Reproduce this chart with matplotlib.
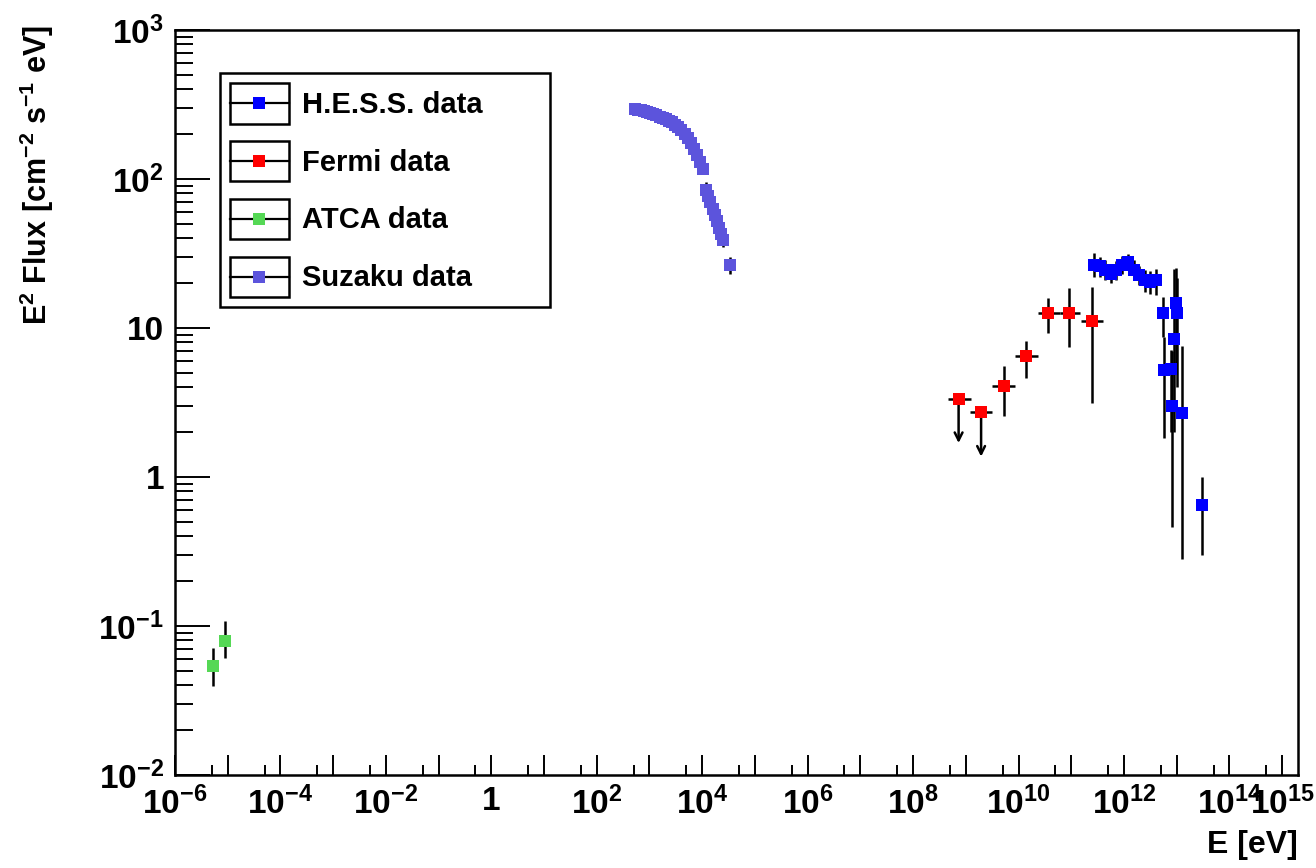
import numpy as np
import matplotlib
matplotlib.use('Agg')
import matplotlib.pyplot as plt
from matplotlib.legend_handler import HandlerBase
from matplotlib.patches import Rectangle
from matplotlib.lines import Line2D
from matplotlib.ticker import FixedLocator, NullFormatter

plt.rcParams['font.family'] = ['Liberation Sans', 'DejaVu Sans']
plt.rcParams['font.weight'] = 'bold'
plt.rcParams['mathtext.fontset'] = 'custom'
plt.rcParams['mathtext.rm'] = 'Liberation Sans:bold'
plt.rcParams['mathtext.it'] = 'Liberation Sans:bold'
plt.rcParams['mathtext.bf'] = 'Liberation Sans:bold'

# H.E.S.S. data (E in eV, E^2 flux, lower / upper ends of error bar)
hess_e = [2.74e11, 3.56e11, 4.43e11, 5.75e11, 7.15e11, 9.29e11, 1.21e12, 1.57e12,
          1.95e12, 2.54e12, 3.15e12, 4.10e12, 5.40e12, 5.81e12, 7.78e12, 8.2e12,
          9.0e12, 9.68e12, 1.02e13, 1.26e13, 3.01e13]
hess_f = [26.5, 26.0, 24.5, 23.0, 24.5, 26.5, 27.9, 24.5,
          22.8, 21.0, 20.5, 21.0, 12.6, 5.2, 5.3, 3.0,
          8.5, 14.7, 12.6, 2.7, 0.645]
hess_lo = [22.0, 22.0, 21.0, 20.0, 21.0, 23.0, 24.5, 21.0,
           19.5, 17.5, 17.0, 16.7, 8.7, 1.83, 2.0, 0.46,
           2.0, 5.0, 4.0, 0.28, 0.30]
hess_hi = [32.0, 30.0, 28.5, 26.5, 28.0, 30.5, 31.5, 28.5,
           26.0, 24.5, 24.0, 25.0, 16.2, 8.7, 7.1, 7.0,
           25.0, 25.2, 21.7, 7.6, 1.0]

# Fermi data (first two are upper limits)
fermi_e = [7.3e8, 1.95e9, 5.2e9, 1.39e10, 3.7e10, 9.2e10, 2.43e11]
fermi_e_lo = [4.5e8, 1.2e9, 3.15e9, 8.4e9, 2.3e10, 6.0e10, 1.55e11]
fermi_e_hi = [1.25e9, 3.2e9, 8.5e9, 2.3e10, 6.1e10, 1.45e11, 4.0e11]
fermi_f = [3.33, 2.74, 4.08, 6.49, 12.6, 12.6, 11.1]
fermi_lo = [1.69, 1.37, 2.57, 4.59, 9.2, 7.48, 3.13]
fermi_hi = [3.33, 2.74, 5.56, 8.22, 15.8, 18.5, 18.9]
fermi_ul = [True, True, False, False, False, False, False]

# ATCA data
atca_e = [5.19e-6, 8.87e-6]
atca_f = [0.0542, 0.0796]
atca_lo = [0.0395, 0.0612]
atca_hi = [0.0708, 0.1087]

# Suzaku data
suzaku_e = [520, 600, 690, 790, 900, 1030, 1180, 1350, 1550, 1780, 2040, 2340,
            2680, 3070, 3520, 4030, 4620, 5300, 6070, 6960, 7980, 9150, 10500,
            11900, 13000, 14300, 15700, 17200, 18900, 20700, 22700, 24900, 33000]
suzaku_f = [294, 292, 290, 287, 283, 278, 273, 268, 262, 257, 251, 246,
            240, 232, 223, 212, 201, 188, 174, 160, 145, 131, 117,
            84, 77, 70, 63, 57, 52, 47, 43, 39, 26.5]
suzaku_err = [3, 3, 3, 3, 3, 3, 3, 3, 3, 3, 3, 3,
              3, 3, 3, 3, 3, 3, 3, 3, 4, 5, 6,
              12, 8, 7, 7, 6, 6, 5, 5, 4, 3.5]

labels = ['H.E.S.S. data', 'Fermi data', 'ATCA data', 'Suzaku data']
colors = ['#0000ff', '#ff0000', '#55d855', '#5c54dc']

fig = plt.figure(figsize=(13.16, 8.68), dpi=100)
ax = fig.add_axes([175 / 1316, 1 - 775 / 868, 1123 / 1316, 745 / 868])
ax.set_xscale('log')
ax.set_yscale('log')

eb = dict(fmt='s', ms=9, mew=0, ecolor='black', elinewidth=1.8,
          capsize=3.8, capthick=1.8)

f = np.array(hess_f)
ax.errorbar(hess_e, hess_f, yerr=[f - np.array(hess_lo), np.array(hess_hi) - f],
            color=colors[0], **eb)

f = np.array(fermi_f)
e = np.array(fermi_e)
ul = np.array(fermi_ul)
yerr = np.array([f - np.array(fermi_lo), np.array(fermi_hi) - f])
yerr[:, ul] = 0
ax.errorbar(fermi_e, fermi_f, xerr=[e - np.array(fermi_e_lo), np.array(fermi_e_hi) - e],
            yerr=yerr, color=colors[1], **eb)
for xi, yi, lo, u in zip(fermi_e, fermi_f, fermi_lo, fermi_ul):
    if u:
        ax.annotate('', xy=(xi, lo), xytext=(xi, yi),
                    arrowprops=dict(arrowstyle='->', lw=1.8, color='black',
                                    shrinkA=0, shrinkB=0, mutation_scale=14),
                    zorder=1)

f = np.array(atca_f)
ax.errorbar(atca_e, atca_f, yerr=[f - np.array(atca_lo), np.array(atca_hi) - f],
            color=colors[2], **eb)

ax.errorbar(suzaku_e, suzaku_f, yerr=suzaku_err, color=colors[3], **eb)

# axes ranges and ticks
ax.set_xlim(1e-6, 2e15)
ax.set_ylim(1e-2, 1e3)

xdec = np.arange(-6, 16)
ax.xaxis.set_major_locator(FixedLocator(10.0 ** xdec))
xlabs = []
for n in xdec:
    if n == 0:
        xlabs.append('1')
    elif n % 2 == 0 or n == 15:
        xlabs.append('$10^{%d}$' % n)
    else:
        xlabs.append('')
ax.set_xticklabels(xlabs)
ax.xaxis.set_minor_locator(FixedLocator(5 * 10.0 ** np.arange(-6, 15)))
ax.xaxis.set_minor_formatter(NullFormatter())

ydec = np.arange(-2, 4)
ax.yaxis.set_major_locator(FixedLocator(10.0 ** ydec))
ax.set_yticklabels(['$10^{-2}$', '$10^{-1}$', '1', '10', '$10^{2}$', '$10^{3}$'])
ax.yaxis.set_minor_locator(FixedLocator([m * 10.0 ** d for d in ydec[:-1] for m in range(2, 10)]))
ax.yaxis.set_minor_formatter(NullFormatter())

ax.tick_params(axis='x', which='major', direction='in', length=14.5, width=1.4,
               labelsize=24, pad=8, top=False)
ax.tick_params(axis='x', which='minor', direction='in', length=7.2, width=1.4, top=False)
ax.tick_params(axis='y', which='major', direction='in', length=25, width=1.4,
               labelsize=24, pad=8, right=False)
ax.tick_params(axis='y', which='minor', direction='in', length=13, width=1.4, right=False)

for s in ax.spines.values():
    s.set_linewidth(1.8)

ax.set_xlabel('E [eV]', fontsize=23, fontweight='bold', loc='right')
ax.xaxis.set_label_coords(1.0, -0.074)
ax.set_ylabel('E$^{2}$ Flux [cm$^{-2}$ s$^{-1}$ eV]', fontsize=22, fontweight='bold', loc='top')
ax.yaxis.set_label_coords(-0.106, 1.007)


class BoxHandler(HandlerBase):
    def create_artists(self, legend, orig_handle, xdescent, ydescent, width, height,
                       fontsize, trans):
        x0, y0 = -xdescent, -ydescent
        rect = Rectangle((x0, y0), width, height, fill=False, ec='black', lw=1.8,
                         transform=trans)
        line = Line2D([x0, x0 + width], [y0 + height / 2] * 2, color='black', lw=1.6,
                      transform=trans)
        mk = Line2D([x0 + width / 2], [y0 + height / 2], marker='s', ms=9, mew=0,
                    color=orig_handle.get_color(), linestyle='none', transform=trans)
        return [rect, line, mk]


proxies = [Line2D([], [], color=c) for c in colors]
leg = ax.legend(proxies, labels, handler_map={Line2D: BoxHandler()},
                loc='upper left', bbox_to_anchor=(45 / 1123, (775 - 308) / 745,
                                                  330 / 1123, 235 / 745),
                mode='expand', borderaxespad=0, fancybox=False, framealpha=1,
                edgecolor='black', prop={'weight': 'bold', 'size': 21},
                borderpad=0.35, handletextpad=0.45, labelspacing=0.6,
                handlelength=2.0, handleheight=1.75)
leg.get_frame().set_linewidth(1.8)

fig.savefig('out.png', dpi=100)
